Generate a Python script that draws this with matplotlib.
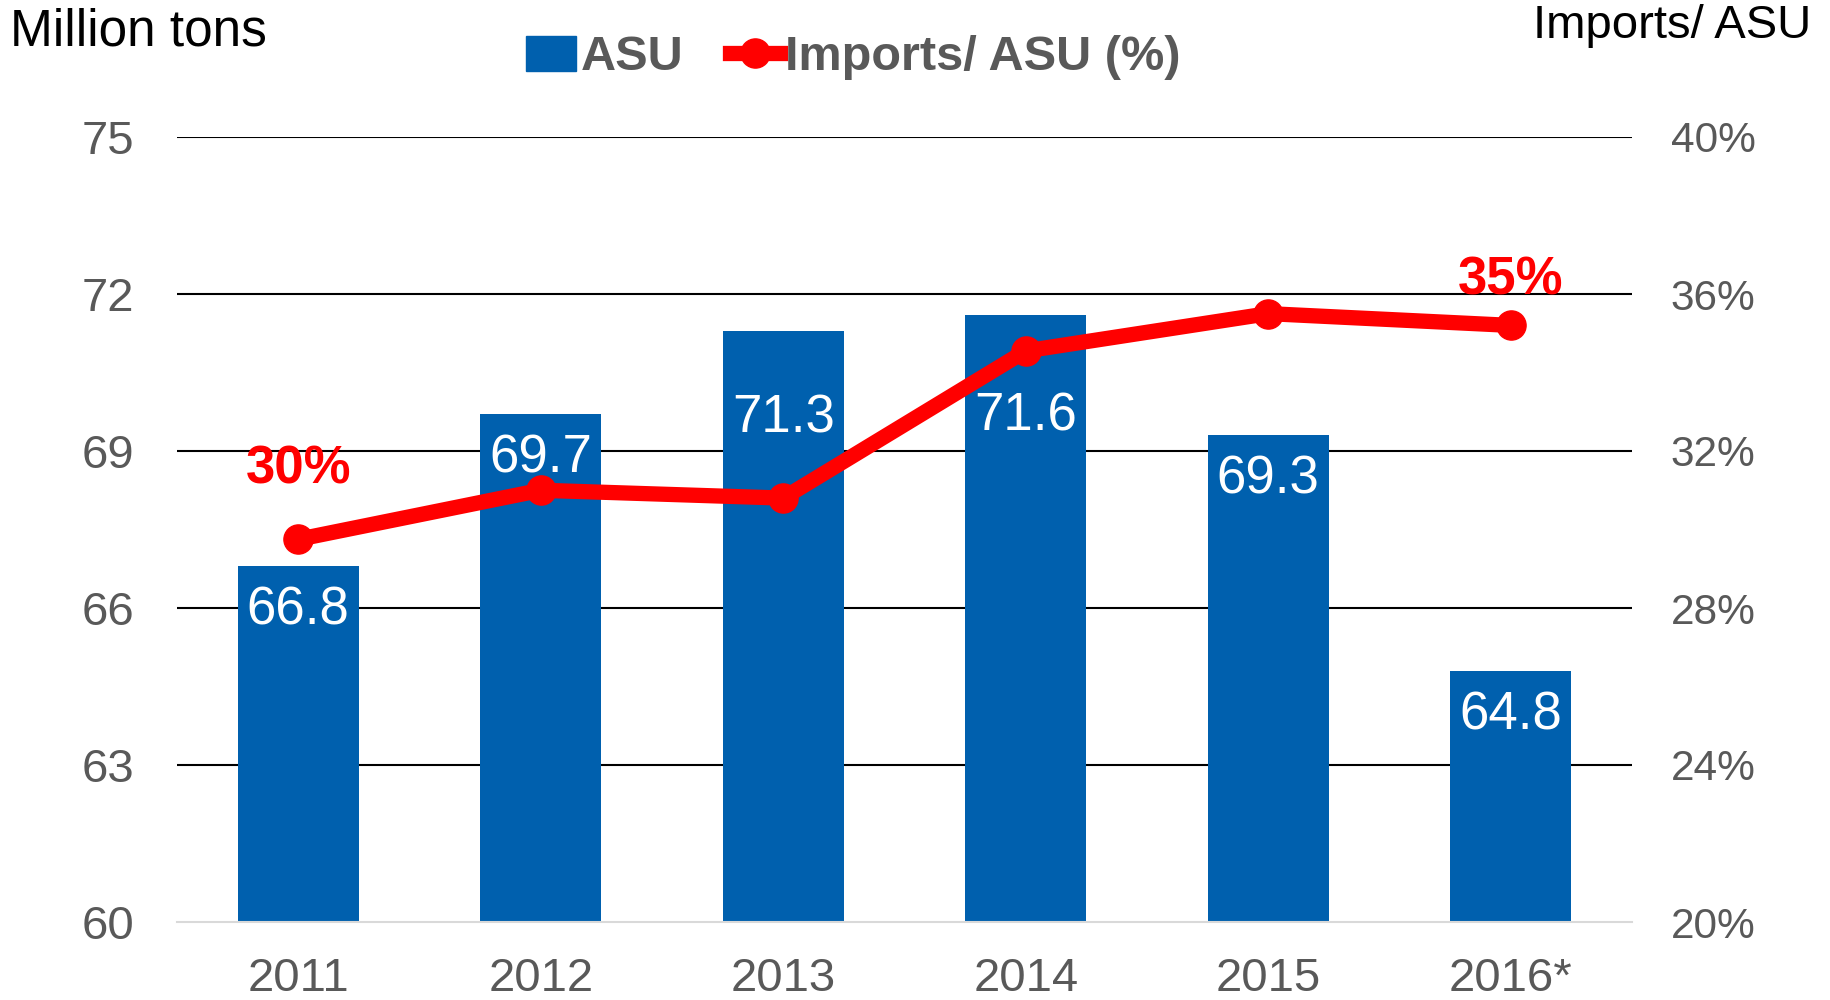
import numpy as np
import matplotlib.pyplot as plt
from matplotlib.lines import Line2D
from matplotlib.patches import Patch

plt.rcParams['font.family'] = ['Liberation Sans', 'DejaVu Sans']

# Data
years = ['2011', '2012', '2013', '2014', '2015', '2016*']
asu = [66.8, 69.7, 71.3, 71.6, 69.3, 64.8]
import_share = [29.75, 31.0, 30.8, 34.55, 35.5, 35.2]  # percent
share_labels = {0: '30%', 5: '35%'}

blue = '#0060ae'
red = '#ff0000'
gray = '#595959'

fig = plt.figure(figsize=(18.31, 10), dpi=100)
ax = fig.add_axes([177 / 1831, 1 - 922 / 1000, (1632 - 177) / 1831, (922 - 137) / 1000])
ax2 = ax.twinx()

x = np.arange(len(years))
ax.bar(x, asu, width=0.5, color=blue, zorder=2)
ax.set_ylim(60, 75)
ax.set_yticks([60, 63, 66, 69, 72, 75])
ax.set_xlim(-0.5, len(years) - 0.5)
ax.set_xticks(x)
ax.set_xticklabels(years)
for yv in [63, 66, 69, 72, 75]:
    ax.axhline(yv, color='black', lw=1.5, zorder=1)
for s in ['top', 'left', 'right']:
    ax.spines[s].set_visible(False)
    ax2.spines[s].set_visible(False)
ax2.spines['bottom'].set_visible(False)
ax.spines['bottom'].set_color('#d9d9d9')
ax.spines['bottom'].set_linewidth(1.5)
ax.tick_params(axis='both', length=0, labelsize=34, colors=gray)
ax.tick_params(axis='y', pad=31)
ax.tick_params(axis='x', pad=25)

ax2.plot(x, import_share, color=red, lw=11, marker='o', markersize=21, zorder=4)
ax2.set_ylim(20, 40)
ax2.set_yticks([20, 24, 28, 32, 36, 40])
ax2.set_yticklabels([f'{t}%' for t in [20, 24, 28, 32, 36, 40]])
ax2.tick_params(axis='y', length=0, labelsize=30.5, colors=gray, pad=28)

# bar value labels (drawn on ax2 so they sit above the line)
label_offsets = [-32, -32, -63, -73, -32, -32]
for i, v in enumerate(asu):
    ax2.annotate(f'{v:.1f}', (x[i], v), xycoords=ax.transData, xytext=(0, label_offsets[i]),
                 textcoords='offset points', ha='center', va='center', color='white',
                 fontsize=38, zorder=6)

offsets = {0: 50, 5: 32}
for i, txt in share_labels.items():
    ax2.annotate(txt, (x[i], import_share[i]), xytext=(0, offsets[i]), textcoords='offset points',
                 ha='center', va='center', color=red, fontsize=38, fontweight='bold', zorder=6)

fig.text(10 / 1831, 1 - 32 / 1000, 'Million tons', fontsize=37, color='black', va='center', ha='left')
fig.text(1811 / 1831, 1 - 26 / 1000, 'Imports/ ASU', fontsize=34, color='black', va='center', ha='right')

handles = [Patch(color=blue, label='ASU'),
           Line2D([0], [0], color=red, lw=11, marker='o', markersize=21, label='Imports/ ASU (%)')]
leg = fig.legend(handles=handles, loc='center', bbox_to_anchor=(853 / 1831, 1 - 58 / 1000), ncol=2,
                 frameon=False, handlelength=1.03, handletextpad=0.1, columnspacing=0.95,
                 prop={'weight': 'bold', 'size': 35})
for t in leg.get_texts():
    t.set_color(gray)

fig.savefig('out.png', dpi=100)
